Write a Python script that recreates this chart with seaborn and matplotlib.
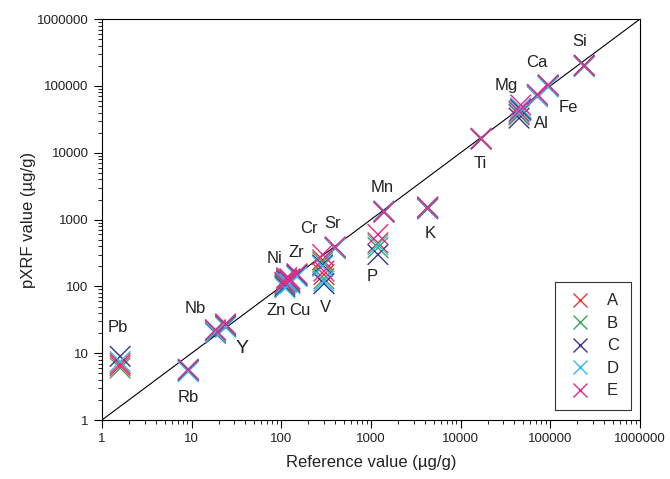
import pandas as pd
import seaborn as sns
import matplotlib.pyplot as plt
import numpy as np
from matplotlib.ticker import LogLocator, FuncFormatter, NullFormatter

# Data (ug/g)
elements = ["Pb", "Rb", "Nb", "Y", "Zr", "Ni", "Zn", "Cu", "Cr", "V",
            "Sr", "Mn", "P", "K", "Ti", "Al", "Mg", "Fe", "Ca", "Si"]
reference = [1.6, 9.2, 18.5, 24, 150, 115, 110, 125, 290, 300,
             400, 1400, 1200, 4300, 17000, 45000, 47000, 72000, 95000, 240000]

sample_a = [7.0, 5.6, 21, 26, 148, 125, 110, 120, 250, 150,
            380, 1320, 450, 1500, 16500, 37000, 44000, 72000, 100000, 200000]
sample_b = [6.0, 5.8, 22, 27, 150, 130, 105, 125, 230, 130,
            370, 1300, 380, 1550, 16000, 38000, 43000, 74000, 98000, 195000]
sample_c = [9.0, 5.5, 20, 25, 145, 120, 100, 115, 210, 110,
            385, 1340, 300, 1450, 16200, 33000, 45000, 70000, 102000, 205000]
sample_d = [7.5, 5.3, 20.5, 24.5, 140, 115, 95, 110, 200, 120,
            375, 1310, 420, 1480, 16300, 40000, 47000, 71000, 97000, 198000]
sample_e = [6.5, 5.7, 22.5, 27.5, 155, 135, 115, 130, 300, 170,
            390, 1290, 600, 1520, 16100, 42000, 52000, 75000, 104000, 202000]

samples = ["A", "B", "C", "D", "E"]
colors = ["#ee3333", "#33aa55", "#333399", "#33bbee", "#ee2288"]

# label placement (data coords) for the element names
label_pos = {
    "Pb": (1.5, 24.7), "Rb": (9.1, 2.2), "Nb": (10.9, 46), "Y": (36.4, 11.6),
    "Ni": (85, 266), "Zr": (149, 327), "Cr": (203, 748), "Sr": (376, 889),
    "Zn": (87, 43), "Cu": (161, 43), "V": (314, 49), "Mn": (1324, 3076),
    "P": (1023, 143), "K": (4536, 630), "Ti": (16800, 6800), "Mg": (32700, 100000),
    "Al": (80400, 27000), "Ca": (70600, 221000), "Fe": (160000, 46900),
    "Si": (213000, 456000),
}

# long format for seaborn
frames = []
for name, vals in zip(samples, [sample_a, sample_b, sample_c, sample_d, sample_e]):
    frames.append(pd.DataFrame({"element": elements, "ref": reference,
                                "pxrf": vals, "sample": name}))
df = pd.concat(frames, ignore_index=True)

sns.set_style("white")
plt.rcParams["font.family"] = ["Liberation Sans", "DejaVu Sans"]

fig = plt.figure(figsize=(6.7, 4.79), dpi=100)
ax = fig.add_axes([0.152, 0.123, 0.803, 0.837])

ax.plot([1, 1e6], [1, 1e6], color="black", lw=0.8, zorder=1)

sns.scatterplot(data=df, x="ref", y="pxrf", hue="sample", palette=colors,
                marker="x", s=220, linewidth=1.0, ax=ax, zorder=3)

ax.set_xscale("log")
ax.set_yscale("log")
ax.set_xlim(1, 1e6)
ax.set_ylim(1, 1e6)

fmt = FuncFormatter(lambda v, p: f"{int(round(v))}")
for axis in (ax.xaxis, ax.yaxis):
    axis.set_major_locator(LogLocator(base=10, numticks=10))
    axis.set_minor_locator(LogLocator(base=10, subs=np.arange(2, 10), numticks=20))
    axis.set_major_formatter(fmt)
    axis.set_minor_formatter(NullFormatter())

ax.tick_params(which="major", direction="out", length=6, width=0.8,
               labelsize=9.5, color="black", bottom=True, left=True,
               labelcolor="#222222")
ax.tick_params(which="minor", direction="out", length=3, width=0.6,
               color="black", bottom=True, left=True)
for sp in ax.spines.values():
    sp.set_color("black")
    sp.set_linewidth(0.8)

ax.set_xlabel("Reference value (\u00b5g/g)", fontsize=12, labelpad=7,
              color="#222222")
ax.set_ylabel("pXRF value (\u00b5g/g)", fontsize=12, labelpad=1,
              color="#222222")

for el, (lx, ly) in label_pos.items():
    ax.text(lx, ly, el, ha="center", va="center",
            fontsize=14 if el == "Y" else 12, color="#222222")

leg = ax.legend(loc="lower right", frameon=True, fancybox=False,
                edgecolor="black", fontsize=12, handletextpad=0.9,
                labelspacing=0.45, borderpad=0.7, markerscale=0.7,
                handlelength=1.5, borderaxespad=0,
                bbox_to_anchor=(0.983, 0.025))
leg.get_frame().set_linewidth(0.8)

fig.savefig("out.png", dpi=100)
